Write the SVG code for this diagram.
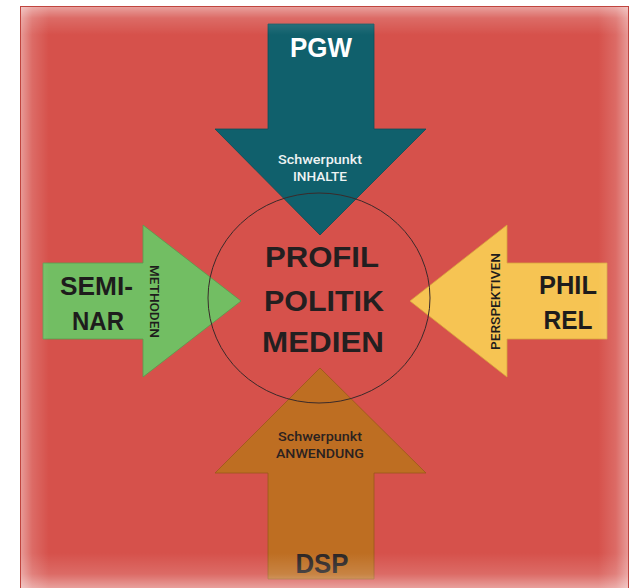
<svg xmlns="http://www.w3.org/2000/svg" width="630" height="588" viewBox="0 0 630 588">
<defs>
<style>
.t{font-family:"Liberation Sans",Arial,sans-serif;text-anchor:middle}
.big{font-size:28px;font-weight:700}
.lab{font-size:26px;font-weight:700;fill:#1e1c1c}
.sm{font-family:Roboto,"Liberation Sans",Arial,sans-serif;font-size:13.5px;font-weight:500}
.ctr{font-size:29px;font-weight:700;fill:#231f20}
</style>
<linearGradient id="gT" x1="0" y1="0" x2="0" y2="1"><stop offset="0" stop-color="#fff" stop-opacity="0.45"/><stop offset="0.4" stop-color="#fff" stop-opacity="0.15"/><stop offset="1" stop-color="#fff" stop-opacity="0"/></linearGradient>
<linearGradient id="gB" x1="0" y1="1" x2="0" y2="0"><stop offset="0" stop-color="#fff" stop-opacity="0.45"/><stop offset="0.4" stop-color="#fff" stop-opacity="0.15"/><stop offset="1" stop-color="#fff" stop-opacity="0"/></linearGradient>
<linearGradient id="gL" x1="0" y1="0" x2="1" y2="0"><stop offset="0" stop-color="#fff" stop-opacity="0.42"/><stop offset="0.4" stop-color="#fff" stop-opacity="0.15"/><stop offset="1" stop-color="#fff" stop-opacity="0"/></linearGradient>
<linearGradient id="gR" x1="1" y1="0" x2="0" y2="0"><stop offset="0" stop-color="#fff" stop-opacity="0.42"/><stop offset="0.4" stop-color="#fff" stop-opacity="0.15"/><stop offset="1" stop-color="#fff" stop-opacity="0"/></linearGradient>
</defs>
<rect width="630" height="588" fill="#ffffff"/>
<rect id="background" x="20.5" y="6.5" width="608" height="590" fill="#d6514b" stroke="#c0443e" stroke-width="1"/>
<g id="connectors"/>
<g id="pgw">
<polygon points="268,24 374,24 374,129 426,129 320,235 215,129 268,129" fill="#10606c" stroke="#0c4e58" stroke-width="0.8"/>
<text class="t big" x="321" y="57" fill="#ffffff" textLength="62" lengthAdjust="spacingAndGlyphs">PGW</text>
<text class="t sm" x="320" y="164" fill="#eef3f3" textLength="84" lengthAdjust="spacingAndGlyphs">Schwerpunkt</text>
<text class="t sm" x="320" y="181" fill="#eef3f3" textLength="54" lengthAdjust="spacingAndGlyphs">INHALTE</text>
</g>
<g id="dsp">
<polygon points="320,368 426,473 374,473 374,579 268,579 268,473 215,473" fill="#be6e22" stroke="#9a581b" stroke-width="0.8"/>
<text class="t big" x="322" y="573" fill="#2b2524" textLength="53" lengthAdjust="spacingAndGlyphs">DSP</text>
<text class="t sm" x="320" y="441" fill="#2b2220" textLength="84" lengthAdjust="spacingAndGlyphs">Schwerpunkt</text>
<text class="t sm" x="320" y="458" fill="#2b2220" textLength="88" lengthAdjust="spacingAndGlyphs">ANWENDUNG</text>
</g>
<g id="seminar">
<polygon points="43,263 143,263 143,225 241,301 143,377 143,339 43,339" fill="#72be63" stroke="#5a9a4e" stroke-width="0.8"/>
<text class="t lab" x="96.5" y="295" textLength="73" lengthAdjust="spacingAndGlyphs">SEMI-</text>
<text class="t lab" x="98" y="330" textLength="52" lengthAdjust="spacingAndGlyphs">NAR</text>
<text class="t sm" transform="translate(149.5,301.5) rotate(90)" x="0" y="0" fill="#1e1c1c" font-size="13" textLength="73" lengthAdjust="spacingAndGlyphs">METHODEN</text>
</g>
<g id="phil">
<polygon points="607,263 507,263 507,225 410,301 507,377 507,339 607,339" fill="#f6c453" stroke="#d8a43e" stroke-width="0.8"/>
<text class="t lab" x="568" y="294" textLength="58" lengthAdjust="spacingAndGlyphs">PHIL</text>
<text class="t lab" x="568" y="329" textLength="49" lengthAdjust="spacingAndGlyphs">REL</text>
<text class="t sm" transform="translate(500,301.5) rotate(-90)" x="0" y="0" fill="#1e1c1c" font-size="13" textLength="97" lengthAdjust="spacingAndGlyphs">PERSPEKTIVEN</text>
</g>
<g id="center">
<ellipse cx="319" cy="298" rx="111" ry="105" fill="none" stroke="#3a2a2a" stroke-width="1"/>
<text class="t ctr" x="322" y="267" textLength="114" lengthAdjust="spacingAndGlyphs">PROFIL</text>
<text class="t ctr" x="324" y="311" textLength="120" lengthAdjust="spacingAndGlyphs">POLITIK</text>
<text class="t ctr" x="323" y="352" textLength="122" lengthAdjust="spacingAndGlyphs">MEDIEN</text>
</g>
<g id="softedge" pointer-events="none">
<rect x="21" y="7" width="607" height="28" fill="url(#gT)"/>
<rect x="21" y="553" width="607" height="35" fill="url(#gB)"/>
<rect x="21" y="7" width="28" height="581" fill="url(#gL)"/>
<rect x="598" y="7" width="30" height="581" fill="url(#gR)"/>
</g>
</svg>
